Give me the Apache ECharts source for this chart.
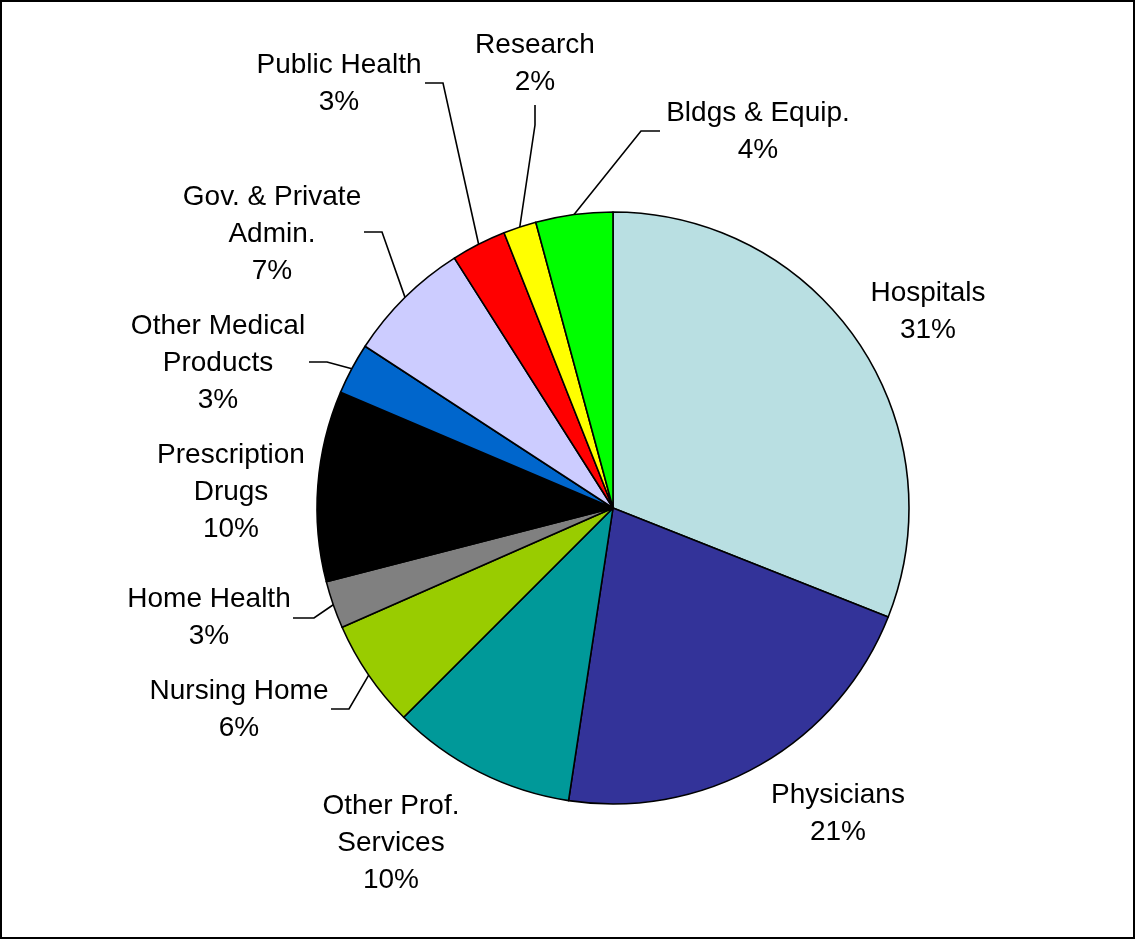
<!DOCTYPE html>
<html>
<head>
<meta charset="utf-8">
<script src="https://cdn.jsdelivr.net/npm/echarts@6/dist/echarts.min.js"></script>
<style>
  html, body { margin: 0; padding: 0; background: #fff; }
  #chart { width: 1136px; height: 941px; }
</style>
</head>
<body>
<div id="chart"></div>
<script>
// ---- data ----
const categories = ['Hospitals', 'Physicians', 'Other Prof.\nServices', 'Nursing Home', 'Home Health',
  'Prescription\nDrugs', 'Other Medical\nProducts', 'Gov. & Private\nAdmin.', 'Public Health', 'Research', 'Bldgs & Equip.'];
const shares = [31.0, 21.4, 10.1, 5.9, 2.6, 10.4, 2.8, 6.8, 3.0, 1.8, 4.2];
const colors = ['#B9DFE2', '#333399', '#009999', '#99CC00', '#808080', '#000000',
  '#0066CC', '#CCCCFF', '#FF0000', '#FFFF00', '#00FF00'];

// ---- label placement (layout/style only) ----
const labelSpots = [
  { x: 928, y: 312 },
  { x: 838, y: 814 },
  { x: 391, y: 843 },
  { x: 239, y: 710, elbow: [349, 709], end: [331, 709] },
  { x: 209, y: 618, elbow: [314, 618], end: [293, 618] },
  { x: 231, y: 492 },
  { x: 218, y: 363, elbow: [327, 362], end: [309, 362] },
  { x: 272, y: 234, elbow: [382, 232], end: [364, 232] },
  { x: 339, y: 84, elbow: [443, 83], end: [425, 83] },
  { x: 535, y: 64, elbow: [535, 125], end: [535, 105] },
  { x: 758, y: 132, elbow: [641, 131], end: [660, 131] }
];

const chart = echarts.init(document.getElementById('chart'), null, { renderer: 'canvas' });

const data = categories.map((name, i) => ({
  name: name,
  value: shares[i],
  itemStyle: { color: colors[i] },
  labelLine: { show: !!labelSpots[i].elbow }
}));

chart.setOption({
  backgroundColor: '#ffffff',
  animation: false,
  graphic: [{
    type: 'rect',
    shape: { x: 1, y: 1, width: 1133, height: 937 },
    style: { fill: 'none', stroke: '#000000', lineWidth: 2 },
    silent: true,
    z: 10
  }],
  series: [{
    type: 'pie',
    center: [613, 508],
    radius: 296,
    startAngle: 90,
    clockwise: true,
    avoidLabelOverlap: false,
    itemStyle: { borderColor: '#000000', borderWidth: 1.6 },
    emphasis: { disabled: true },
    label: {
      show: true,
      position: 'outside',
      formatter: p => p.name + '\n' + Math.round(p.percent) + '%',
      fontFamily: '"Liberation Sans", Arial, sans-serif',
      fontSize: 28,
      lineHeight: 37,
      color: '#000000',
      align: 'center'
    },
    labelLine: {
      show: true,
      smooth: false,
      lineStyle: { color: '#000000', width: 1.6 }
    },
    labelLayout: function (params) {
      const s = labelSpots[params.dataIndex];
      const out = { x: s.x, y: s.y, align: 'center', verticalAlign: 'middle' };
      if (s.elbow && params.labelLinePoints) {
        out.labelLinePoints = [params.labelLinePoints[0], s.elbow, s.end];
      }
      return out;
    },
    data: data
  }]
});
</script>
</body>
</html>
